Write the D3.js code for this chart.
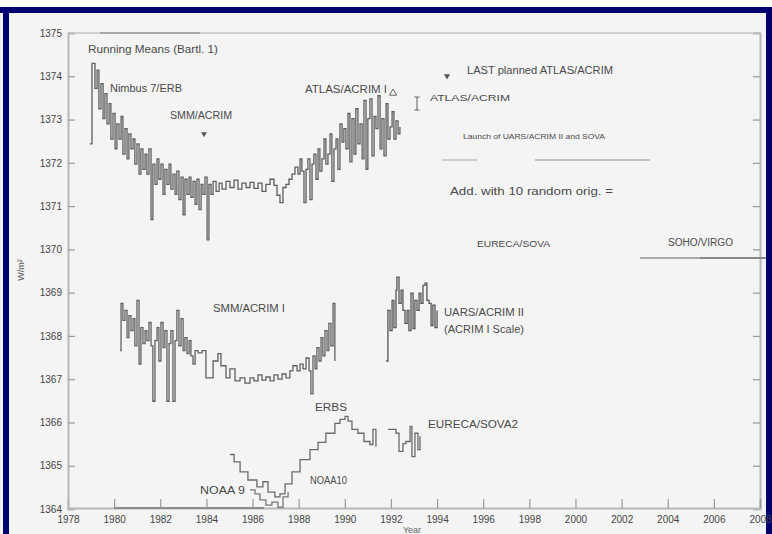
<!DOCTYPE html>
<html>
<head>
<meta charset="utf-8">
<script src="https://cdn.jsdelivr.net/npm/d3@7"></script>
<style>
  html, body { margin: 0; padding: 0; background: #fff; }
  svg { display: block; }
  text { font-family: "Liberation Sans", Arial, sans-serif; }
</style>
</head>
<body>
<svg id="chart" width="772" height="534"></svg>
<script>
// Total solar irradiance, running means per Bartels rotation [W/m^2]
const nimbus7 = [
  [1978.95,1372.44],[1979.04,1374.30],[1979.17,1373.72],[1979.26,1374.14],[1979.34,1373.25],[1979.43,1373.83],
  [1979.52,1373.02],[1979.60,1373.60],[1979.69,1372.90],[1979.78,1373.37],[1979.86,1372.55],[1979.95,1373.14],
  [1980.04,1372.32],[1980.12,1372.90],[1980.21,1372.55],[1980.30,1373.07],[1980.38,1372.20],[1980.47,1372.79],
  [1980.56,1372.09],[1980.64,1372.67],[1980.73,1372.32],[1980.82,1372.55],[1980.90,1371.97],[1980.99,1372.44],
  [1981.08,1371.74],[1981.16,1372.32],[1981.25,1371.85],[1981.34,1372.20],[1981.42,1371.74],[1981.51,1372.32],
  [1981.60,1370.69],[1981.68,1371.97],[1981.77,1371.50],[1981.86,1372.09],[1981.94,1371.62],[1982.03,1371.97],
  [1982.12,1371.27],[1982.20,1371.85],[1982.29,1371.50],[1982.38,1371.97],[1982.46,1371.39],[1982.55,1371.74],
  [1982.64,1371.27],[1982.72,1371.81],[1982.81,1371.15],[1982.90,1371.67],[1982.99,1370.80],[1983.07,1371.62],
  [1983.16,1371.27],[1983.25,1371.67],[1983.33,1371.20],[1983.42,1371.57],[1983.51,1371.04],[1983.59,1371.62],
  [1983.68,1370.92],[1983.77,1371.50],[1983.85,1371.27],[1983.94,1371.67],[1984.03,1370.22],[1984.11,1371.50],
  [1984.20,1371.27],[1984.29,1371.57],[1984.42,1371.34],[1984.55,1371.53],[1984.68,1371.39],[1984.85,1371.57],
  [1985.02,1371.43],[1985.20,1371.60],[1985.37,1371.39],[1985.54,1371.53],[1985.72,1371.43],[1985.89,1371.55],
  [1986.06,1371.41],[1986.24,1371.53],[1986.41,1371.34],[1986.58,1371.50],[1986.76,1371.62],[1986.93,1371.48],
  [1987.06,1371.25],[1987.19,1371.08],[1987.32,1371.43],[1987.45,1371.50],[1987.58,1371.62],[1987.71,1371.74],
  [1987.84,1371.90],[1987.97,1371.74],[1988.06,1372.09],[1988.14,1371.81],[1988.23,1371.08],[1988.32,1371.85],
  [1988.40,1372.09],[1988.49,1371.15],[1988.58,1371.97],[1988.66,1372.20],[1988.75,1371.62],[1988.84,1372.32],
  [1988.92,1371.81],[1989.01,1372.09],[1989.10,1372.55],[1989.18,1371.97],[1989.27,1372.20],[1989.36,1372.67],
  [1989.44,1371.57],[1989.53,1372.32],[1989.62,1372.55],[1989.70,1371.85],[1989.79,1372.90],[1989.88,1372.48],
  [1989.96,1372.79],[1990.05,1372.32],[1990.14,1373.14],[1990.22,1372.02],[1990.31,1373.02],[1990.40,1372.20],
  [1990.48,1373.25],[1990.57,1372.44],[1990.66,1372.90],[1990.75,1372.09],[1990.83,1373.44],[1990.92,1371.85],
  [1991.00,1373.02],[1991.09,1373.48],[1991.18,1372.16],[1991.27,1373.07],[1991.35,1372.79],[1991.44,1373.55],
  [1991.53,1372.32],[1991.61,1373.02],[1991.70,1372.16],[1991.79,1373.37],[1991.87,1372.55],[1991.96,1372.83],
  [1992.05,1373.18],[1992.13,1372.55],[1992.22,1372.97],[1992.31,1372.67],[1992.39,1372.83]
];

const smmAcrim = [
  [1980.25,1367.66],[1980.30,1368.75],[1980.38,1368.36],[1980.47,1368.59],[1980.56,1367.96],[1980.64,1368.47],
  [1980.73,1368.12],[1980.82,1368.40],[1980.90,1367.77],[1980.99,1368.82],[1981.08,1367.35],[1981.16,1368.19],
  [1981.25,1367.82],[1981.34,1368.12],[1981.42,1367.89],[1981.51,1368.31],[1981.60,1367.77],[1981.68,1366.49],
  [1981.77,1367.89],[1981.86,1368.19],[1981.94,1367.42],[1982.03,1368.31],[1982.12,1367.73],[1982.20,1368.12],
  [1982.29,1366.49],[1982.38,1367.82],[1982.46,1368.12],[1982.55,1366.49],[1982.64,1367.89],[1982.72,1368.59],
  [1982.81,1367.77],[1982.90,1368.40],[1982.99,1367.66],[1983.07,1367.96],[1983.16,1367.59],[1983.25,1367.89],
  [1983.33,1367.54],[1983.42,1367.35],[1983.51,1367.66],[1983.64,1367.61],[1983.81,1367.66],[1983.98,1367.03],
  [1984.29,1367.42],[1984.50,1367.59],[1984.63,1367.31],[1984.85,1367.03],[1985.02,1367.24],[1985.24,1366.96],
  [1985.46,1367.03],[1985.67,1366.91],[1985.89,1367.03],[1986.06,1366.96],[1986.24,1367.10],[1986.41,1366.98],
  [1986.58,1367.05],[1986.76,1366.96],[1986.93,1367.10],[1987.10,1367.00],[1987.28,1367.12],[1987.45,1367.03],
  [1987.62,1367.19],[1987.75,1367.31],[1987.93,1367.19],[1988.06,1367.35],[1988.19,1367.24],[1988.32,1367.49],
  [1988.45,1367.19],[1988.53,1366.66],[1988.62,1367.54],[1988.71,1367.24],[1988.79,1367.73],[1988.88,1367.42],
  [1988.97,1367.96],[1989.05,1367.54],[1989.14,1368.12],[1989.23,1367.66],[1989.31,1368.29],[1989.40,1367.77],
  [1989.49,1368.75],[1989.57,1367.42]
];

const uarsAcrim2 = [
  [1991.79,1367.42],[1991.87,1368.59],[1991.96,1368.12],[1992.05,1368.82],[1992.13,1368.19],[1992.22,1369.06],
  [1992.26,1369.36],[1992.35,1368.75],[1992.44,1369.06],[1992.52,1368.59],[1992.61,1368.29],[1992.70,1368.59],
  [1992.78,1368.12],[1992.87,1368.99],[1992.96,1368.17],[1993.04,1368.82],[1993.13,1368.59],[1993.22,1368.99],
  [1993.30,1368.75],[1993.39,1369.17],[1993.48,1369.22],[1993.56,1368.82],[1993.65,1368.75],[1993.74,1368.24],
  [1993.82,1368.71],[1993.91,1368.19],[1994.00,1368.59]
];

const erbs = [
  [1985.02,1365.26],[1985.20,1365.09],[1985.46,1364.86],[1985.80,1364.67],[1986.19,1364.51],[1986.45,1364.63],
  [1986.67,1364.39],[1986.97,1364.28],[1987.19,1364.35],[1987.41,1364.58],[1987.71,1364.86],[1988.06,1365.14],
  [1988.49,1365.37],[1988.84,1365.54],[1989.18,1365.75],[1989.57,1365.98],[1989.79,1366.07],[1990.01,1366.14],
  [1990.14,1366.03],[1990.31,1365.84],[1990.57,1365.75],[1990.83,1365.56],[1991.09,1365.49],[1991.22,1365.84],
  [1991.35,1365.44],[1991.60,null],
  [1991.87,1365.84],[1992.22,1365.75],[1992.35,1365.33],[1992.52,1365.51],[1992.65,1365.56],[1992.83,1365.91],
  [1992.91,1365.21],[1993.04,1365.75],[1993.17,1365.37],[1993.26,1365.68]
];

const noaa9 = [
  [1985.89,1364.44],[1986.11,1364.35],[1986.32,1364.21],[1986.58,1364.09],[1986.84,1364.16],[1987.10,1364.04],
  [1987.32,1364.28],[1987.54,1364.39]
];

// ATLAS shuttle comparisons: [year, low, high]
const atlasFlights = [[1992.09,1373.61,1373.61],[1993.13,1373.22,1373.52]];

const yearTicks = d3.range(1978, 2009, 2);
const irradianceTicks = d3.range(1364, 1376, 1);

const W = 772, H = 534;
const svg = d3.select("#chart");

// page frame
svg.append("rect").attr("x", 0).attr("y", 7).attr("width", W).attr("height", H - 7).attr("fill", "#f4f4f4");
svg.append("rect").attr("x", 0).attr("y", 7).attr("width", W).attr("height", 6).attr("fill", "#000070");
svg.append("rect").attr("x", 3).attr("y", 7).attr("width", 6).attr("height", H - 7).attr("fill", "#000070");
svg.append("rect").attr("x", 766).attr("y", 7).attr("width", 6).attr("height", H - 7).attr("fill", "#000070");

const x = d3.scaleLinear().domain([1978, 2008]).range([68, 760]);
const y = d3.scaleLinear().domain([1364, 1375]).range([509, 33]);

const g = svg.append("g");

// plot box
g.append("line").attr("x1", 68).attr("x2", 760).attr("y1", 33).attr("y2", 33)
  .attr("stroke", "#c4c4c4").attr("stroke-width", 1.6);
g.append("line").attr("x1", 100).attr("x2", 200).attr("y1", 33).attr("y2", 33)
  .attr("stroke", "#9a9a9a").attr("stroke-width", 1.6);

const leftAxis = g.append("g").attr("transform", "translate(68,0)")
  .call(d3.axisLeft(y).tickValues(irradianceTicks).tickSize(-7).tickPadding(6).tickFormat(d3.format("d")));
const rightAxis = g.append("g").attr("transform", "translate(760,0)")
  .call(d3.axisRight(y).tickValues(irradianceTicks.slice(1, -1)).tickSize(-7).tickFormat(""));
const bottomAxis = g.append("g").attr("transform", "translate(0,508)")
  .call(d3.axisBottom(x).tickValues(yearTicks).tickSize(-9).tickPadding(8).tickFormat(d3.format("d")));

[leftAxis, rightAxis, bottomAxis].forEach(a => {
  a.select(".domain").attr("stroke", "#b8b8b8").attr("stroke-width", 2);
  a.selectAll(".tick line").attr("stroke", "#999").attr("stroke-width", 1.2);
  a.selectAll(".tick text").attr("fill", "#444").attr("font-size", 10)
    .attr("font-family", "\"Liberation Sans\", Arial, sans-serif");
});
bottomAxis.selectAll(".tick").filter(d => d === 1978).select("line").remove();
leftAxis.selectAll(".tick").filter(d => d === 1375 || d === 1364).select("line").remove();
g.append("line").attr("x1", x(1980)).attr("x2", x(1986.5)).attr("y1", 508).attr("y2", 508)
  .attr("stroke", "#8c8c8c").attr("stroke-width", 2);

// irradiance series as step curves
const line = d3.line()
  .defined(d => d[1] != null)
  .x(d => x(d[0])).y(d => y(d[1]))
  .curve(d3.curveStepAfter);

[
  { data: nimbus7, color: "#5e5e5e" },
  { data: smmAcrim, color: "#606060" },
  { data: uarsAcrim2, color: "#555" },
  { data: erbs, color: "#6a6a6a" },
  { data: noaa9, color: "#777" }
].forEach(s => {
  g.append("path").datum(s.data).attr("d", line)
    .attr("fill", "none").attr("stroke", s.color).attr("stroke-width", 1.3);
});

// ATLAS comparison marks
g.append("path")
  .attr("transform", `translate(${x(atlasFlights[0][0])},${y(atlasFlights[0][1])})`)
  .attr("d", d3.symbol(d3.symbolTriangle, 22)())
  .attr("fill", "none").attr("stroke", "#666").attr("stroke-width", 1);
const bar = atlasFlights[1];
g.append("line").attr("x1", x(bar[0])).attr("x2", x(bar[0])).attr("y1", y(bar[1])).attr("y2", y(bar[2]))
  .attr("stroke", "#777").attr("stroke-width", 1.2);
[bar[1], bar[2]].forEach(v => g.append("line")
  .attr("x1", x(bar[0]) - 2.5).attr("x2", x(bar[0]) + 2.5).attr("y1", y(v)).attr("y2", y(v))
  .attr("stroke", "#777").attr("stroke-width", 1.2));

// mission timeline bars
g.append("line").attr("x1", 442).attr("x2", 477).attr("y1", 160).attr("y2", 160).attr("stroke", "#c0c0c0").attr("stroke-width", 1.6);
g.append("line").attr("x1", 535).attr("x2", 650).attr("y1", 160).attr("y2", 160).attr("stroke", "#b0b0b0").attr("stroke-width", 1.6);
g.append("line").attr("x1", 640).attr("x2", 760).attr("y1", 258).attr("y2", 258).attr("stroke", "#a8a8a8").attr("stroke-width", 2.2);
g.append("line").attr("x1", 700).attr("x2", 766).attr("y1", 258).attr("y2", 258).attr("stroke", "#888").attr("stroke-width", 2.2);

// annotations
const labels = [
  { t: "Running Means (Bartl. 1)", x: 88, y: 53, w: 130, s: 10 },
  { t: "Nimbus 7/ERB", x: 110, y: 92, w: 72, s: 10 },
  { t: "SMM/ACRIM", x: 170, y: 119, w: 62, s: 10 },
  { t: "ATLAS/ACRIM I", x: 305, y: 93, w: 82, s: 10 },
  { t: "LAST planned ATLAS/ACRIM", x: 467, y: 74, w: 146, s: 10 },
  { t: "ATLAS/ACRIM", x: 430, y: 101, w: 80, s: 9 },
  { t: "Launch of UARS/ACRIM II and SOVA", x: 463, y: 139, w: 142, s: 7 },
  { t: "Add. with 10 random orig. =", x: 450, y: 195, w: 163, s: 11 },
  { t: "EURECA/SOVA", x: 477, y: 247, w: 73, s: 9 },
  { t: "SOHO/VIRGO", x: 668, y: 246, w: 65, s: 10 },
  { t: "SMM/ACRIM I", x: 213, y: 312, w: 72, s: 10 },
  { t: "UARS/ACRIM II", x: 444, y: 316, w: 80, s: 10 },
  { t: "(ACRIM I Scale)", x: 444, y: 333, w: 80, s: 10 },
  { t: "ERBS", x: 315, y: 411, w: 32, s: 10 },
  { t: "EURECA/SOVA2", x: 428, y: 428, w: 90, s: 10 },
  { t: "NOAA10", x: 310, y: 484, w: 37, s: 10 },
  { t: "NOAA 9", x: 200, y: 494, w: 45, s: 10 }
];
g.selectAll("text.note").data(labels).join("text")
  .attr("class", "note")
  .attr("x", d => d.x).attr("y", d => d.y)
  .attr("font-size", d => d.s)
  .attr("textLength", d => d.w).attr("lengthAdjust", "spacingAndGlyphs")
  .attr("fill", "#4a4a4a")
  .text(d => d.t);

// arrow markers
g.append("path").attr("transform", "translate(204,134) rotate(180)")
  .attr("d", d3.symbol(d3.symbolTriangle, 14)()).attr("fill", "#555");
g.append("path").attr("transform", "translate(447,76) rotate(180)")
  .attr("d", d3.symbol(d3.symbolTriangle, 16)()).attr("fill", "#555");

// axis titles
g.append("text").attr("transform", "translate(24,270) rotate(-90)")
  .attr("text-anchor", "middle").attr("font-size", 9).attr("fill", "#555").text("W/m²");
g.append("text").attr("x", 412).attr("y", 533).attr("text-anchor", "middle")
  .attr("font-size", 9).attr("fill", "#666").text("Year");
</script>
</body>
</html>
